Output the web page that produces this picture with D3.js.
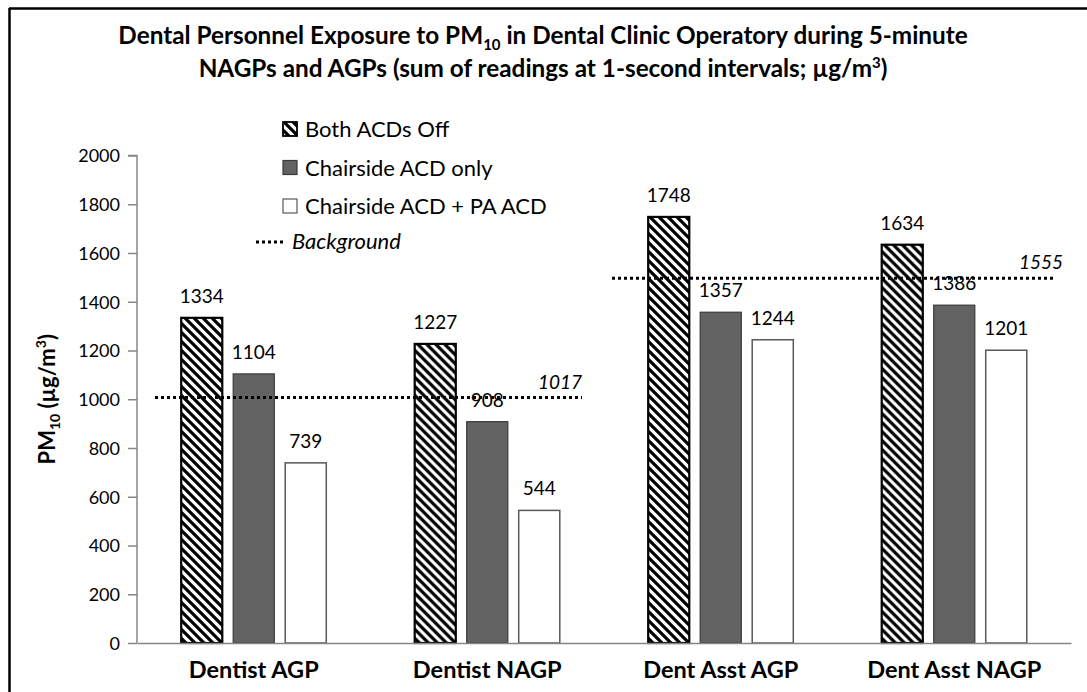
<!DOCTYPE html>
<html>
<head>
<meta charset="utf-8">
<script src="https://cdn.jsdelivr.net/npm/d3@7"></script>
<style>
  html, body { margin: 0; padding: 0; background: #fff; }
  svg { display: block; }
  text { font-family: Lato, "Open Sans", sans-serif; fill: #000; }
</style>
</head>
<body>
<svg id="chart" width="1087" height="692"></svg>
<script>
// ---- data ----
const categories = ["Dentist AGP", "Dentist NAGP", "Dent Asst AGP", "Dent Asst NAGP"];
const seriesNames = ["Both ACDs Off", "Chairside ACD only", "Chairside ACD + PA ACD"];
const bothOff = [1334, 1227, 1748, 1634];
const chairsideOnly = [1104, 908, 1357, 1386];
const chairsidePA = [739, 544, 1244, 1201];
// background lines: label values and level at which they are drawn in the picture
const backgroundLabels = [1017, 1555];
const backgroundDrawnLevel = [1007, 1496];
const backgroundGroups = [["Dentist AGP", "Dentist NAGP"], ["Dent Asst AGP", "Dent Asst NAGP"]];
const yTicks = [0, 200, 400, 600, 800, 1000, 1200, 1400, 1600, 1800, 2000];

const seriesValues = [bothOff, chairsideOnly, chairsidePA];
const rows = categories.map((c, i) => ({
  cat: c,
  vals: seriesNames.map((s, j) => ({ series: s, idx: j, value: seriesValues[j][i] }))
}));

const svg = d3.select("#chart");

// pattern for hatching
const defs = svg.append("defs");
const s = 9;
const pat = defs.append("pattern").attr("id", "hatch")
  .attr("patternUnits", "userSpaceOnUse").attr("width", s).attr("height", s);
pat.append("rect").attr("width", s).attr("height", s).attr("fill", "#fff");
pat.append("path")
  .attr("d", `M-2,-2 L${s + 2},${s + 2} M${-s / 2 - 2},${s / 2 - 2} L${s / 2 + 2},${3 * s / 2 + 2} M${s / 2 - 2},${-s / 2 - 2} L${3 * s / 2 + 2},${s / 2 + 2}`)
  .attr("stroke", "#000").attr("stroke-width", 3.2);

// outer frame
svg.append("line").attr("x1", 9).attr("x2", 1087).attr("y1", 8.5).attr("y2", 8.5).attr("stroke", "#000").attr("stroke-width", 2.5);
svg.append("line").attr("x1", 9.5).attr("x2", 9.5).attr("y1", 8).attr("y2", 692).attr("stroke", "#000").attr("stroke-width", 2.5);

// scales
const x0 = d3.scaleBand().domain(categories).range([137, 1071]).paddingInner(0).paddingOuter(0);
const x1 = d3.scaleBand().domain(seriesNames).range([0, x0.bandwidth()]).paddingInner(0.21).paddingOuter(0.85);
const y = d3.scaleLinear().domain([0, 2000]).range([643, 155.5]);

// title
const title = svg.append("text").attr("text-anchor", "middle").attr("font-weight", "bold").attr("font-size", 24.3);
const t1 = title.append("tspan").attr("x", 543).attr("y", 44);
t1.append("tspan").text("Dental Personnel Exposure to PM");
t1.append("tspan").attr("font-size", 15).attr("dy", 6).text("10");
t1.append("tspan").attr("dy", -6).text(" in Dental Clinic Operatory during 5-minute");
const t2 = title.append("tspan").attr("x", 543).attr("y", 77);
t2.append("tspan").text("NAGPs and AGPs (sum of readings at 1-second intervals; µg/m");
t2.append("tspan").attr("font-size", 15).attr("dy", -9).text("3");
t2.append("tspan").attr("dy", 9).text(")");

// y axis
const yAxis = d3.axisLeft(y).tickValues(yTicks).tickSize(9).tickPadding(8).tickFormat(d3.format("d"));
const gy = svg.append("g").attr("transform", "translate(137,0)").call(yAxis);
gy.selectAll("path, line").attr("stroke", "#868686").attr("stroke-width", 1.5);
gy.select(".domain").attr("d", `M-9,${y(2000)}H0V${y(0)}`);
gy.selectAll("text").attr("font-size", 18).attr("font-family", "Lato, sans-serif").attr("fill", "#000").attr("dy", "0.35em");

// y title
const yt = svg.append("text").attr("transform", `translate(55,${(y(0) + y(2000)) / 2}) rotate(-90)`)
  .attr("text-anchor", "middle").attr("font-weight", "bold").attr("font-size", 22);
yt.append("tspan").text("PM");
yt.append("tspan").attr("font-size", 14).attr("dy", 5).text("10");
yt.append("tspan").attr("dy", -5).text(" (µg/m");
yt.append("tspan").attr("font-size", 14).attr("dy", -9).text("3");
yt.append("tspan").attr("dy", 9).text(")");

// bars
const fills = ["url(#hatch)", "#636363", "#ffffff"];
const strokes = ["#000", "#3a3a3a", "#595959"];
const strokeW = [2.2, 1.2, 1.5];
const groups = svg.append("g").selectAll("g").data(rows).join("g")
  .attr("transform", d => `translate(${x0(d.cat)},0)`);
groups.selectAll("rect").data(d => d.vals).join("rect")
  .attr("x", d => x1(d.series))
  .attr("y", d => y(d.value))
  .attr("width", x1.bandwidth())
  .attr("height", d => y(0) - y(d.value))
  .attr("fill", d => fills[d.idx])
  .attr("stroke", d => strokes[d.idx])
  .attr("stroke-width", d => strokeW[d.idx]);

// x axis line
const xAxis = d3.axisBottom(x0).tickSize(0).tickPadding(18);
const gx = svg.append("g").attr("transform", `translate(0,${y(0)})`).call(xAxis);
gx.select(".domain").attr("stroke", "#868686").attr("stroke-width", 1.5);
gx.selectAll("text").attr("font-size", 23.5).attr("font-weight", "bold").attr("font-family", "Lato, sans-serif").attr("fill", "#000").attr("dy", "0.71em");

// background lines
const bgStart = [18, 8];
const bgEnd = [22, 16];
backgroundLabels.forEach((lab, i) => {
  const xa = x0(backgroundGroups[i][0]) + bgStart[i];
  const xb = x0(backgroundGroups[i][1]) + x0.bandwidth() - bgEnd[i];
  const yy = y(backgroundDrawnLevel[i]);
  svg.append("line").attr("x1", xa).attr("x2", xb).attr("y1", yy).attr("y2", yy)
    .attr("stroke", "#000").attr("stroke-width", 3).attr("stroke-dasharray", "3,3");
  svg.append("text").attr("x", xb + (i === 0 ? 0 : 8)).attr("y", yy - 9)
    .attr("text-anchor", "end").attr("font-style", "italic").attr("font-size", 19).text(lab);
});

// value labels (drawn after background lines so they sit on top)
groups.selectAll("text.val").data(d => d.vals).join("text").attr("class", "val")
  .attr("x", d => x1(d.series) + x1.bandwidth() / 2)
  .attr("y", d => y(d.value) - 15)
  .attr("text-anchor", "middle").attr("font-size", 19)
  .text(d => d.value);

// legend
const legend = svg.append("g");
const ly = [122, 160.5, 199];
seriesNames.forEach((name, i) => {
  legend.append("rect").attr("x", 283).attr("y", ly[i]).attr("width", 14).attr("height", 14)
    .attr("fill", fills[i]).attr("stroke", i === 0 ? "#000" : strokes[i]).attr("stroke-width", i === 0 ? 1.8 : 1.2);
  legend.append("text").attr("x", 305).attr("y", ly[i] + 15).attr("font-size", 22).text(name);
});
legend.append("line").attr("x1", 256).attr("x2", 283).attr("y1", 242).attr("y2", 242)
  .attr("stroke", "#000").attr("stroke-width", 3).attr("stroke-dasharray", "3,3");
legend.append("text").attr("x", 292).attr("y", 249).attr("font-size", 22).attr("font-style", "italic").text("Background");
</script>
</body>
</html>
